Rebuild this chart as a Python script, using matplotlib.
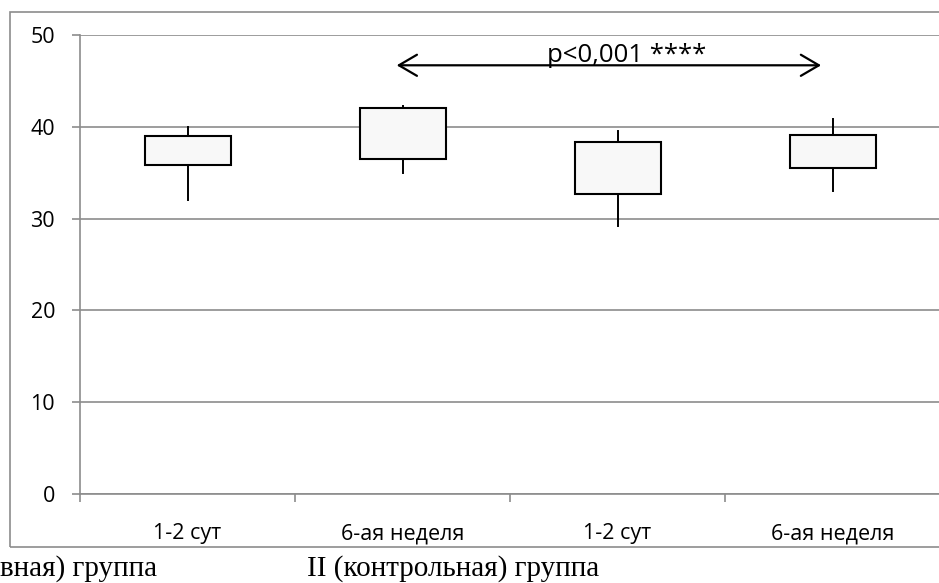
import matplotlib
matplotlib.use("Agg")
import matplotlib.pyplot as plt
from matplotlib.patches import Rectangle

# box-plot data per period (min, q1, q3, max)
labels = ["1-2 сут", "6-ая неделя", "1-2 сут", "6-ая неделя"]
whisker_low = [32.0, 35.0, 29.2, 33.0]
box_low = [35.8, 36.5, 32.7, 35.5]
box_high = [39.0, 42.0, 38.3, 39.1]
whisker_high = [40.0, 42.3, 39.5, 40.8]

group_labels = ["вная) группа", "II (контрольная) группа"]
p_text = "p<0,001 ****"
arrow_from, arrow_to, arrow_y = 1, 3, 46.7

W, H = 939, 583
plt.rcParams['font.family'] = ['Open Sans', 'DejaVu Sans']
fig = plt.figure(figsize=(W / 100, H / 100), dpi=100)

# outer chart frame
fig.patches.append(Rectangle((10 / W, (H - 547) / H), 1.0, (547 - 12) / H,
                             transform=fig.transFigure, fill=False,
                             edgecolor="#8c8c8c", lw=1.2))

ax = fig.add_axes([80 / W, (H - 494) / H, 860 / W, (494 - 35) / H])
ax.set_xlim(-0.5, 3.5)
ax.set_ylim(0, 50)

grey = "#8c8c8c"
ax.set_yticks(range(0, 51, 10))
ax.grid(axis="y", color=grey, lw=1.2)
ax.set_axisbelow(True)
for s in ["top", "right"]:
    ax.spines[s].set_visible(False)
for s in ["left", "bottom"]:
    ax.spines[s].set_color(grey)
    ax.spines[s].set_linewidth(1.2)

ax.tick_params(axis="y", length=6, width=1.2, color=grey, pad=12, labelsize=15.5)
ax.set_xticks(range(len(labels)))
ax.set_xticklabels(labels)
ax.tick_params(axis="x", which="major", length=0, pad=21, labelsize=15.5)
ax.set_xticks([-0.5, 0.5, 1.5, 2.5], minor=True)
ax.tick_params(axis="x", which="minor", length=6, width=1.2, color=grey)

w = 0.4
for i in range(len(labels)):
    ax.plot([i, i], [whisker_low[i], box_low[i]], color="black", lw=1.4, zorder=3)
    ax.plot([i, i], [box_high[i], whisker_high[i]], color="black", lw=1.4, zorder=3)
    ax.add_patch(Rectangle((i - w / 2, box_low[i]), w, box_high[i] - box_low[i],
                           facecolor="#f8f8f8", edgecolor="black", lw=1.5, zorder=4))

ax.annotate("", xy=(arrow_to - 0.053, arrow_y), xytext=(arrow_from - 0.027, arrow_y),
            arrowprops=dict(arrowstyle="<->,head_length=0.65,head_width=0.38",
                            color="black", lw=1.6, mutation_scale=20,
                            shrinkA=0, shrinkB=0))
ax.text(1.67, arrow_y + 0.35, p_text, ha="left", va="baseline", fontsize=18.5)

fig.text(0, (H - 569) / H, group_labels[0], family="Liberation Serif",
         fontsize=21, ha="left", va="center")
fig.text(307 / W, (H - 569) / H, group_labels[1], family="Liberation Serif",
         fontsize=21, ha="left", va="center")

fig.savefig("out.png", dpi=100)
